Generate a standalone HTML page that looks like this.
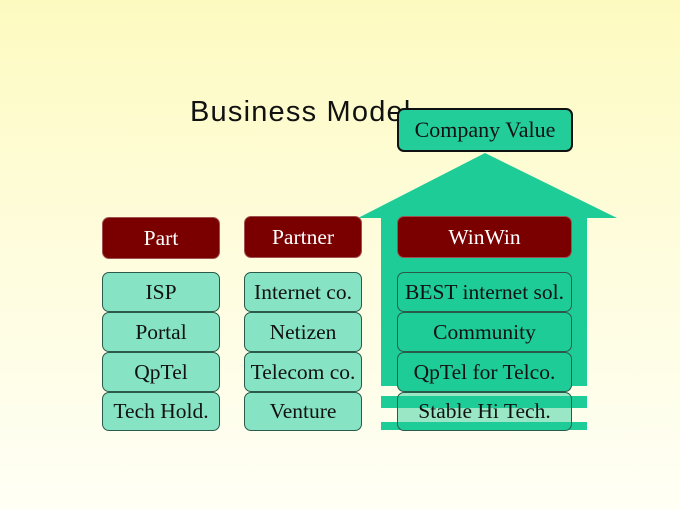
<!DOCTYPE html>
<html><head><style>
html,body{margin:0;padding:0}
body{width:680px;height:510px;position:relative;overflow:hidden;background:linear-gradient(#fdfac0 0%,#fefde0 55%,#fffff5 100%);font-family:"Liberation Serif",serif}
.b{position:absolute;box-sizing:border-box;border:1px solid #2a5a4a;border-radius:7px;background:#86e3c3;color:#111;font-size:21.5px;text-align:center;display:flex;align-items:center;justify-content:center;white-space:nowrap}
.h{background:#7a0000;color:#fff;border-color:#a05050}
.t{position:absolute;left:190px;top:96px;font-family:"Liberation Sans",sans-serif;font-size:29px;letter-spacing:1.2px;color:#111}
</style></head><body>
<div class="t">Business Model</div>
<svg width="680" height="510" style="position:absolute;left:0;top:0">
<polygon points="485,153 617,218 587,218 587,386 381,386 381,218 358,218" fill="#1ecc98"/>
<rect x="381" y="396" width="206" height="12" fill="#1ecc98"/>
<rect x="381" y="422" width="206" height="8" fill="#1ecc98"/>
</svg>
<div class="b" style="left:397px;top:108px;width:176px;height:44px;background:#22cd9a;border:2px solid #111;font-size:22px">Company Value</div>

<div class="b h" style="left:102px;top:217px;width:118px;height:42px">Part</div>
<div class="b h" style="left:244px;top:216px;width:118px;height:42px">Partner</div>
<div class="b h" style="left:397px;top:216px;width:175px;height:42px">WinWin</div>

<div class="b" style="left:102px;top:272px;width:118px;height:40px">ISP</div>
<div class="b" style="left:102px;top:312px;width:118px;height:40px">Portal</div>
<div class="b" style="left:102px;top:352px;width:118px;height:40px">QpTel</div>
<div class="b" style="left:102px;top:392px;width:118px;height:39px">Tech Hold.</div>

<div class="b" style="left:244px;top:272px;width:118px;height:40px">Internet co.</div>
<div class="b" style="left:244px;top:312px;width:118px;height:40px">Netizen</div>
<div class="b" style="left:244px;top:352px;width:118px;height:40px">Telecom co.</div>
<div class="b" style="left:244px;top:392px;width:118px;height:39px">Venture</div>

<div class="b" style="left:397px;top:272px;width:175px;height:40px;background:#1ecc98">BEST internet sol.</div>
<div class="b" style="left:397px;top:312px;width:175px;height:40px;background:#1ecc98">Community</div>
<div class="b" style="left:397px;top:352px;width:175px;height:40px;background:#1ecc98">QpTel for Telco.</div>
<div class="b" style="left:397px;top:392px;width:175px;height:39px;background:rgba(30,204,152,0.45)">Stable Hi Tech.</div>
</body></html>
